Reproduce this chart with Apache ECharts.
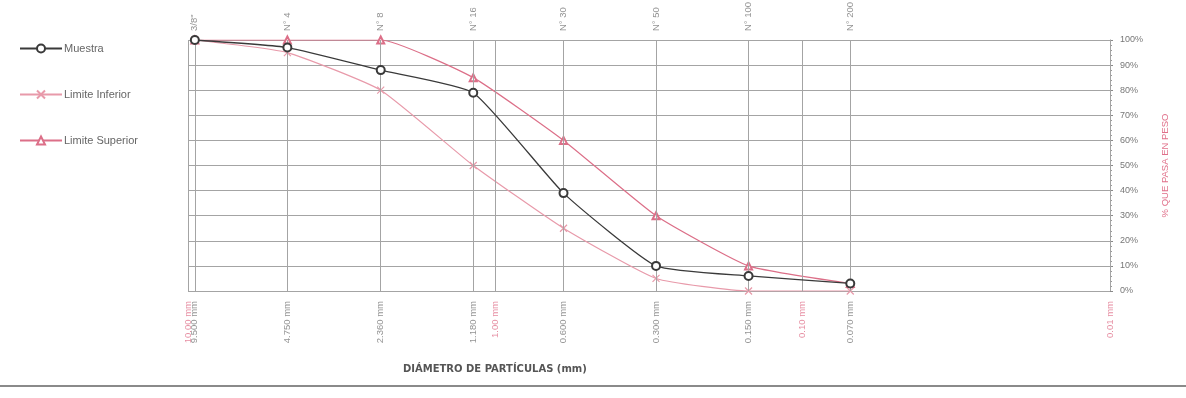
<!DOCTYPE html>
<html>
<head>
<meta charset="utf-8">
<script src="https://cdn.jsdelivr.net/npm/echarts@6/dist/echarts.min.js"></script>
<style>
  html, body { margin: 0; padding: 0; background: #fff; }
  #chart { width: 1186px; height: 398px; }
</style>
</head>
<body>
<div id="chart"></div>
<script>
// tamices (mm) y lecturas del grafico
const sizes = [9.5, 4.75, 2.36, 1.18, 0.6, 0.3, 0.15, 0.07]
const sieveNames = ['3/8"', 'N° 4', 'N° 8', 'N° 16', 'N° 30', 'N° 50', 'N° 100', 'N° 200']
const sizeLabels = ['9.500 mm', '4.750 mm', '2.360 mm', '1.180 mm', '0.600 mm', '0.300 mm', '0.150 mm', '0.070 mm']
const decades = [10, 1, 0.1, 0.01]
const decadeLabels = ['10.00 mm', '1.00 mm', '0.10 mm', '0.01 mm']
const muestra = [100, 97, 88, 79, 39, 10, 6, 3]
const limInf = [100, 95, 80, 50, 25, 5, 0, 0]
const limSup = [100, 100, 100, 85, 60, 30, 10, 3]

const font = '"Liberation Sans Narrow", "Liberation Sans", Arial, sans-serif'
const pinkLow = '#e89aaa'
const pinkHigh = '#dc6f88'
const gridColor = '#a4a4a4'

const pairs = (vals) => sizes.map((s, i) => [s, vals[i]])

const chart = echarts.init(document.getElementById('chart'))
chart.setOption({
  animation: false,
  backgroundColor: '#fff',
  title: {
    text: 'DIÁMETRO DE PARTÍCULAS (mm)',
    left: 398,
    top: 359,
    textStyle: { fontFamily: '"DejaVu Sans", sans-serif', fontSize: 10, fontWeight: 'bold', color: '#555' }
  },
  legend: {
    orient: 'vertical',
    left: 14,
    top: 38,
    itemGap: 35,
    itemWidth: 42,
    itemHeight: 10,
    data: ['Muestra', 'Limite Inferior', 'Limite Superior'],
    textStyle: { fontFamily: font, fontSize: 11, color: '#666', padding: [0, 0, 0, -3] }
  },
  grid: { left: 188, right: 76, top: 40, bottom: 107 },
  xAxis: {
    type: 'log',
    logBase: 10,
    min: 0.01,
    max: 10,
    inverse: true,
    axisLine: { show: false },
    axisTick: { show: false },
    axisLabel: { show: false },
    splitLine: { show: false }
  },
  yAxis: {
    type: 'value',
    position: 'right',
    min: 0,
    max: 100,
    interval: 10,
    name: '% QUE PASA EN PESO',
    nameLocation: 'middle',
    nameRotate: 90,
    nameGap: 50,
    nameTextStyle: { color: '#e0708a', fontFamily: font, fontSize: 9.5 },
    axisLine: { show: true, lineStyle: { color: '#888' } },
    axisTick: { show: true, length: 3, inside: false, lineStyle: { color: '#888' } },
    minorTick: { show: true, splitNumber: 5, length: 2, lineStyle: { color: '#999' } },
    axisLabel: { formatter: '{value}%', color: '#777', fontFamily: font, fontSize: 9, margin: 10 },
    splitLine: { show: true, lineStyle: { color: gridColor, width: 1 } }
  },
  series: [
    {
      name: 'Muestra',
      type: 'line',
      data: pairs(muestra),
      smooth: 0.15,
      symbol: 'emptyCircle',
      symbolSize: 8,
      z: 5,
      lineStyle: { color: '#3a3a3a', width: 1.3 },
      itemStyle: { color: '#3a3a3a', borderWidth: 1.3 }
    },
    {
      name: 'Limite Inferior',
      type: 'line',
      data: pairs(limInf),
      smooth: 0.15,
      symbol: 'path://M0,0L10,10M10,0L0,10',
      symbolSize: 7,
      z: 4,
      lineStyle: { color: pinkLow, width: 1.2 },
      itemStyle: { color: 'rgba(0,0,0,0)', borderColor: pinkLow, borderWidth: 1.2 }
    },
    {
      name: 'Limite Superior',
      type: 'line',
      data: pairs(limSup),
      smooth: 0.15,
      symbol: 'emptyTriangle',
      symbolSize: 7,
      z: 4,
      lineStyle: { color: pinkHigh, width: 1.2 },
      itemStyle: { color: pinkHigh, borderWidth: 1.2 }
    },
    {
      // nombres de tamiz arriba + lineas verticales
      name: 'tamices',
      type: 'scatter',
      silent: true,
      symbolSize: 0,
      data: sizes.map(s => [s, 100]),
      label: {
        show: true,
        position: 'top',
        distance: 9,
        rotate: 90,
        align: 'left',
        verticalAlign: 'middle',
        color: '#777',
        fontFamily: font,
        fontSize: 9.5,
        formatter: p => sieveNames[p.dataIndex]
      },
      markLine: {
        silent: true,
        symbol: 'none',
        label: { show: false },
        lineStyle: { color: gridColor, type: 'solid', width: 1 },
        data: sizes.concat(decades).map(v => ({ xAxis: v }))
      }
    },
    {
      name: 'aberturas',
      type: 'scatter',
      silent: true,
      symbolSize: 0,
      data: sizes.map(s => [s, 0]),
      label: {
        show: true,
        position: 'bottom',
        distance: 10,
        rotate: 90,
        align: 'right',
        verticalAlign: 'middle',
        color: '#777',
        fontFamily: font,
        fontSize: 9.5,
        formatter: p => sizeLabels[p.dataIndex]
      }
    },
    {
      name: 'decadas',
      type: 'scatter',
      silent: true,
      symbolSize: 0,
      data: decades.map(d => [d, 0]),
      label: {
        show: true,
        position: 'bottom',
        distance: 10,
        rotate: 90,
        align: 'right',
        verticalAlign: 'middle',
        color: '#e0708a',
        fontFamily: font,
        fontSize: 9.5,
        formatter: p => decadeLabels[p.dataIndex]
      }
    }
  ],
  graphic: [
    {
      type: 'line',
      shape: { x1: 0, y1: 386, x2: 1186, y2: 386 },
      style: { stroke: '#8a8a8a', lineWidth: 2 }
    }
  ]
})
</script>
</body>
</html>
